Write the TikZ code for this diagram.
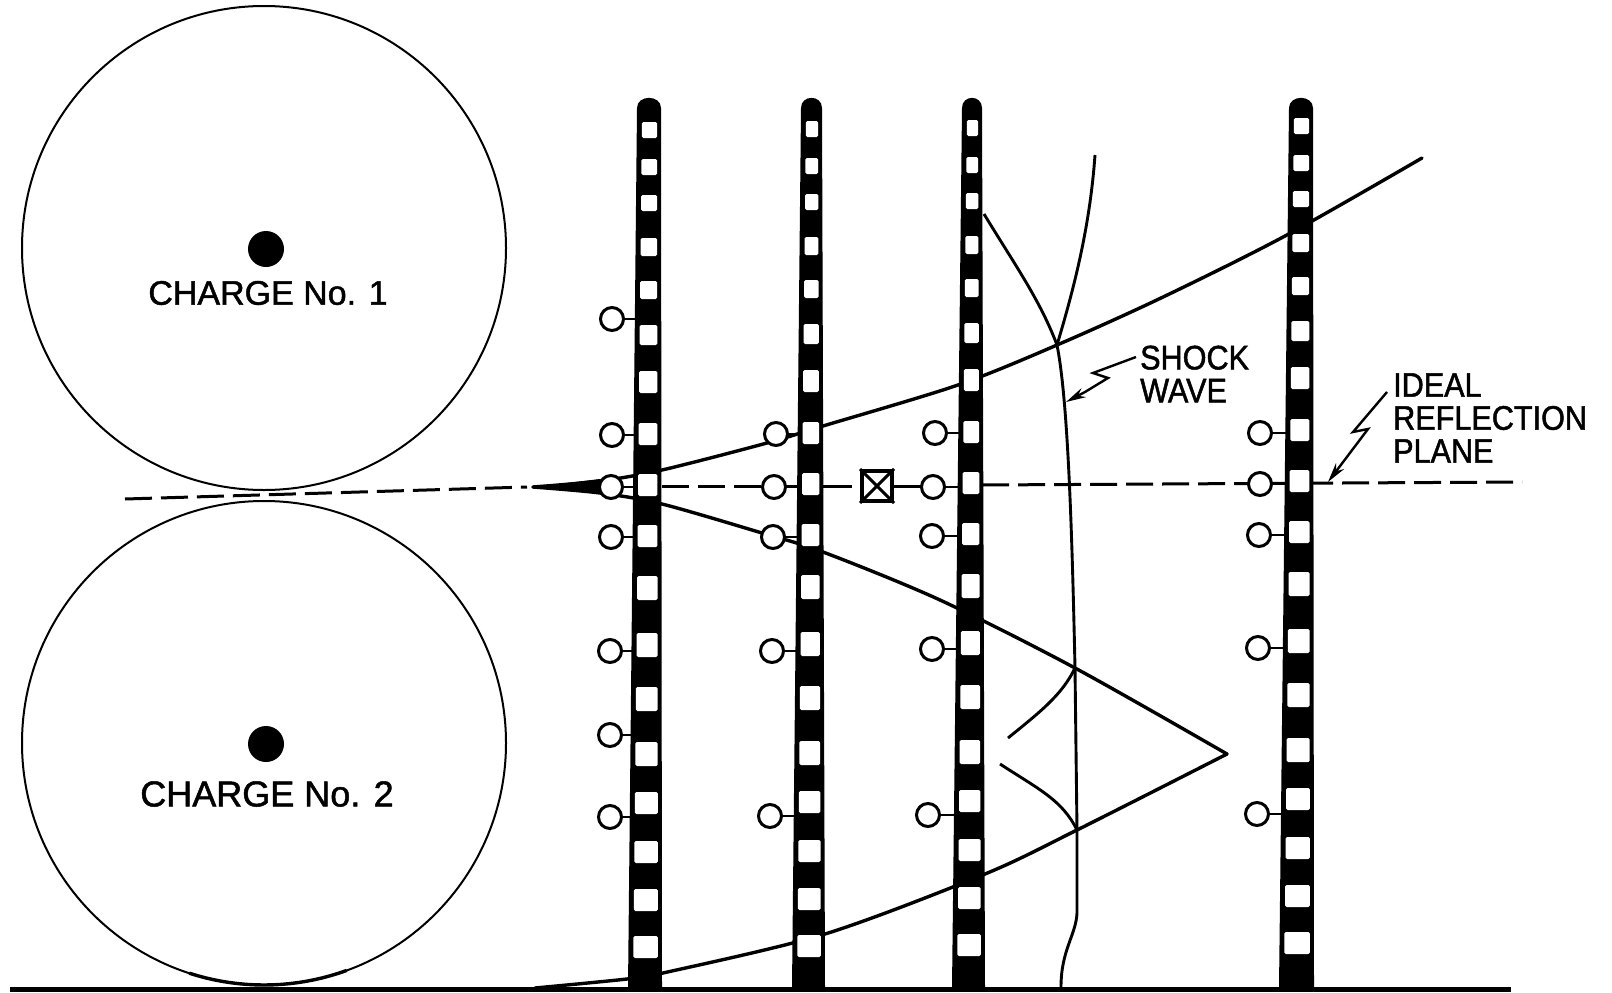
\documentclass[tikz,border=0pt]{standalone}
\usepackage{fontspec}
\setmainfont[FakeBold=1.4]{Liberation Sans}
\newfontfamily\lettering[FakeStretch=0.9,FakeBold=1.4]{Liberation Sans}
\usetikzlibrary{arrows.meta}

\tikzset{
  wave/.style={line width=3.4pt, line join=round, line cap=round},
  shock/.style={line width=2.9pt, line join=round},
  charge/.style={circle, draw, line width=2pt, minimum size=484pt, inner sep=0pt},
  core/.style={circle, fill=black, minimum size=36pt, inner sep=0pt},
  gauge/.style={circle, draw, line width=3pt, fill=white, minimum size=23pt, inner sep=0pt},
  stub/.style={line width=2.6pt},
  plane/.style={line width=3pt, dash pattern=on 27pt off 9pt},
  chargetext/.style={inner sep=0pt},
  note/.style={font=\lettering\fontsize{34}{33}\selectfont, inner sep=0pt, align=left},
  leader/.style={line width=2.4pt, -{Stealth[length=20pt,width=10pt]}}
}

\begin{document}
\begin{tikzpicture}[x=1pt, y=-1pt]
\useasboundingbox (0, 0) rectangle (1612, 993);

% charges
\node [charge] (charge1) at (264, 248) {};
\node [charge] (charge2) at (264, 743) {};
\node [core] (core1) at (266, 249) {};
\node [core] (core2) at (266, 744) {};
\node [chargetext, font=\fontsize{34}{34}\selectfont] (label1) at (268, 293) {CHARGE No. 1};
\node [chargetext, font=\fontsize{36}{36}\selectfont] (label2) at (267, 794) {CHARGE No. 2};

% ground
\draw [line width=5pt] (10, 989) -- (1511, 989);
\draw [line width=3.4pt, domain=70:108, samples=20] plot ({264+242*cos(\x)}, {743+242*sin(\x)});

% reflection plane
\draw [plane] (125, 499) -- (527, 487);
\draw [plane] (662, 486) -- (806, 486);
\draw [plane] (982, 485) -- (1522, 482);
\draw [line width=3pt] (823, 486) -- (852, 486);
\draw [line width=3pt] (893, 486) -- (925, 486);
\fill (533, 487) -- (600, 479) -- (600, 492) -- cycle;

% waves
\draw [wave] plot [smooth] coordinates {(533, 487) (600, 481) (662, 470) (767, 443) (823, 426)
  (958, 385) (1057, 345) (1161, 298) (1285, 236) (1422, 158)};
\draw [wave] plot [smooth] coordinates {(533, 487) (600, 493) (662, 504) (762, 533) (823, 552)
  (940, 600) (1075, 668) (1227, 754)};
\draw [wave] plot [smooth] coordinates {(1227, 754) (1077, 830) (985, 874) (825, 934)
  (663, 973) (627, 979) (535, 988)};

% shock front
\draw [shock] (1095, 155) .. controls (1090, 225) and (1075, 285) .. (1057, 345)
  .. controls (1068, 400) and (1072, 530) .. (1075, 668)
  -- (1077, 830) -- (1077, 913) .. controls (1076, 935) and (1061, 950) .. (1061, 987);
\draw [shock] (984, 214) .. controls (1015, 265) and (1040, 300) .. (1057, 345);
\draw [shock] (1075, 668) .. controls (1062, 695) and (1040, 712) .. (1008, 738);
\draw [shock] (1077, 830) .. controls (1062, 800) and (1040, 790) .. (1000, 764);

% gauges, pole/x/y
\foreach \name/\pole/\x/\y in {
  a1/649/612/319, a2/649/612/435, a3/649/611/487, a4/649/611/537, a5/649/610/651, a6/649/610/735, a7/649/610/817,
  b1/810/776/434, b2/810/774/487, b3/810/773/537, b4/810/772/651, b5/810/770/816,
  c1/970/935/433, c2/970/933/487, c3/970/932/536, c4/970/932/649, c5/970/928/815,
  d1/1298/1260/433, d2/1298/1260/484, d3/1298/1259/535, d4/1298/1258/648, d5/1298/1257/814}
{
  \node [gauge] (\name) at (\x, \y) {};
  \draw [stub] (\name) -- (\pole, \y);
}

% poles, top left/top right/bottom left/bottom right/offset
\foreach \tl/\tr/\bl/\br/\off in {637/661/628/662/0, 801/822/792/825/-1, 962/982/952/985/-2, 1289/1313/1279/1314/-4}
{
  \fill (\tl, 108) .. controls (\tl, 94.5) and (\tr, 94.5) .. (\tr, 108) -- (\br, 988) -- (\bl, 988) -- cycle;
  \foreach \y/\h in {130/8, 167/8, 203/8, 247/9, 290/9, 335/10, 382/11, 434/11, 485/11, 536/11,
                     588/12, 645/12, 699/12, 754/12, 803/11, 852/11, 900/11, 947/11}
  {
    \pgfmathsetmacro{\t}{(\y-108)/880}
    \pgfmathsetmacro{\l}{\tl+(\bl-\tl)*\t+5}
    \pgfmathsetmacro{\r}{\tr+(\br-\tr)*\t-4}
    \fill [white, rounded corners=1.5pt] (\l, \y+\off-\h) rectangle (\r, \y+\off+\h);
  }
}

% transducer
\node [draw, line width=4pt, fill=white, minimum size=30pt, inner sep=0pt] (box) at (877, 486) {};
\draw [line width=3pt] (box.north west) -- (box.south east);
\draw [line width=3pt] (box.south west) -- (box.north east);

% notes
\node [note, anchor=west] (shocktext) at (1140, 374) {SHOCK\\WAVE};
\node [note, anchor=west] (idealtext) at (1393, 418) {IDEAL\\REFLECTION\\PLANE};
\draw [leader] (1136, 357) -- (1093, 373) -- (1108, 378) -- (1085, 392) -- (1066, 402);
\draw [leader] (1387, 392) -- (1353, 432) -- (1368, 429) -- (1328, 482);

\end{tikzpicture}
\end{document}
